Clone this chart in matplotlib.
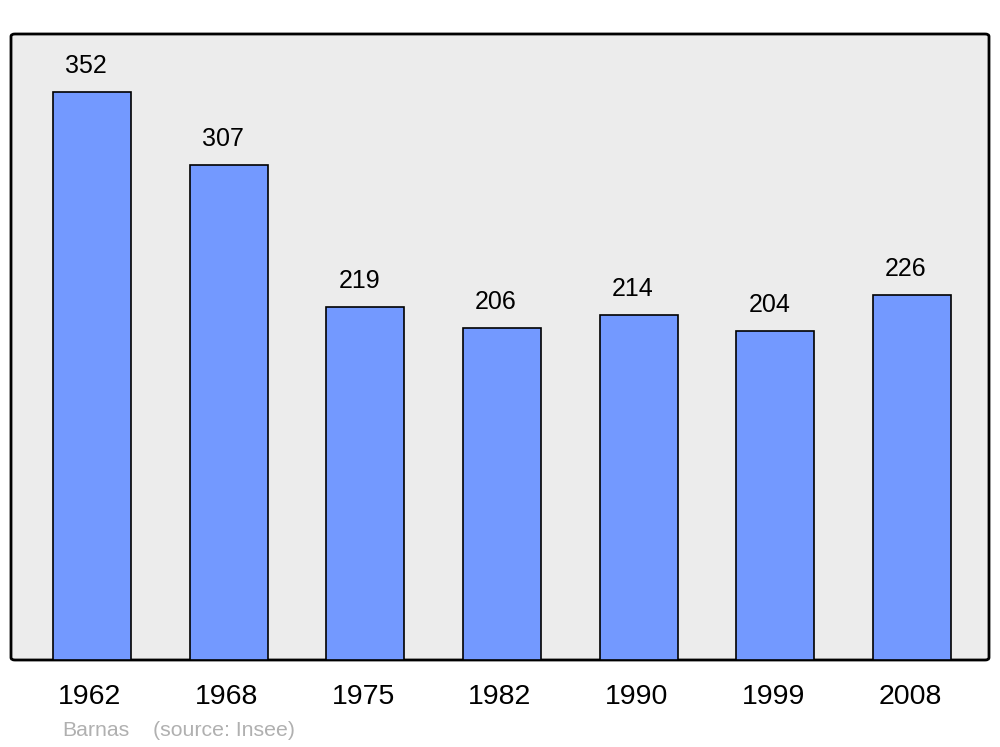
import matplotlib
matplotlib.use("Agg")
import matplotlib.pyplot as plt
from matplotlib.patches import FancyBboxPatch
from matplotlib.transforms import blended_transform_factory

plt.rcParams['font.family'] = ['Liberation Sans', 'DejaVu Sans']

# data
years = ['1962', '1968', '1975', '1982', '1990', '1999', '2008']
population = [352, 307, 219, 206, 214, 204, 226]
commune = 'Barnas'
source = '(source: Insee)'

fig = plt.figure(figsize=(10, 7.47), dpi=100)
ax = fig.add_axes([0.011, 1 - 660/747, 0.978, 626/747])
ax.set_facecolor('none')

# rounded background box
bg = FancyBboxPatch((0, 0), 1, 1, boxstyle='round,pad=0,rounding_size=0.004',
                    transform=ax.transAxes, facecolor='#ececec',
                    edgecolor='black', linewidth=2, zorder=0, clip_on=False)
ax.add_patch(bg)

xs = list(range(len(years)))
bars = ax.bar(xs, population, width=0.57, color='#7399ff', edgecolor='black',
              linewidth=1.2, zorder=2)

for x, v in zip(xs, population):
    ax.annotate(str(v), (x - 0.045, v), xytext=(0, 18.8), textcoords='offset points',
                ha='center', va='center', fontsize=18)

# year labels below the box
tr = blended_transform_factory(ax.transData, fig.transFigure)
for x, y in zip(xs, years):
    ax.text(x - 0.015, 1 - 697/747, y, transform=tr, ha='center', va='center',
            fontsize=20.5)

ax.set_xlim(-0.593, 6.563)
ax.set_ylim(0, 388)
ax.set_xticks([])
ax.set_yticks([])
for s in ax.spines.values():
    s.set_visible(False)

fig.text(0.062, 1 - 731/747, commune, color='#b0b0b0', fontsize=15.3, va='center')
fig.text(0.153, 1 - 731/747, source, color='#b0b0b0', fontsize=15.3, va='center')

fig.savefig('out.png', dpi=100)
